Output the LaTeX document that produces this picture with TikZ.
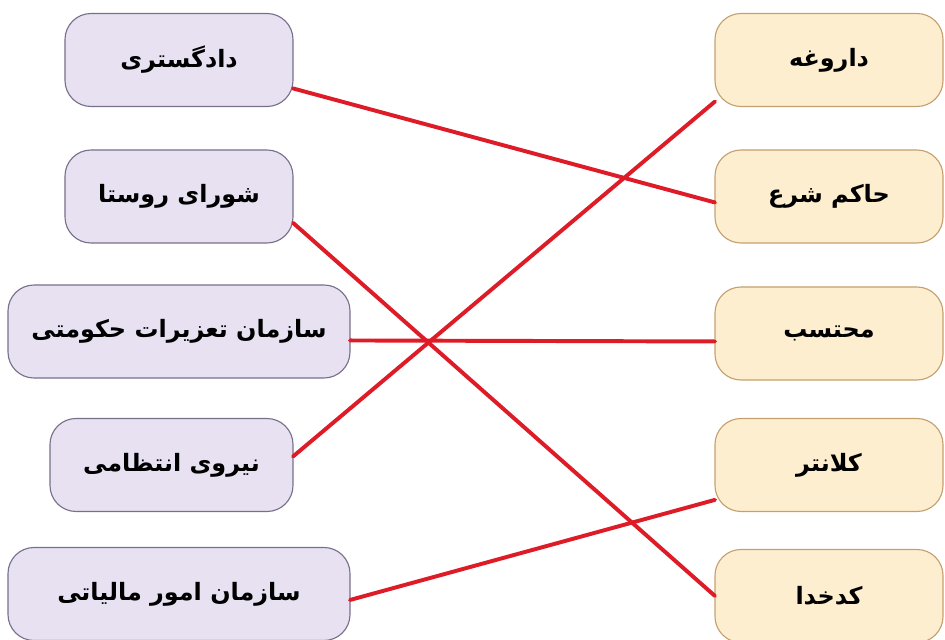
\documentclass[tikz,border=0pt]{standalone}
\usepackage{fontspec}
\newfontfamily\arabicfont[Script=Arabic]{DejaVu Sans}
\TeXXeTstate=1
\newcommand{\fa}[1]{{\arabicfont\bfseries\beginR #1\endR}}

\begin{document}
\begin{tikzpicture}[x=0.25mm,y=-0.25mm,
    leftbox/.style={draw=lilacline,fill=lilac,line width=0.8pt,rounded corners=6.5mm,
      minimum width=57mm,minimum height=23.25mm,outer sep=0pt,font=\fontsize{17}{21}\selectfont},
    rightbox/.style={draw=sandline,fill=sand,line width=0.8pt,rounded corners=6.5mm,
      minimum width=57mm,minimum height=23.25mm,outer sep=0pt,font=\fontsize{17}{21}\selectfont},
    link/.style={draw=linkred,line width=2.8pt,line cap=round}]
                    \definecolor{lilac}{RGB}{231,225,242}
                    \definecolor{lilacline}{RGB}{120,112,138}
                    \definecolor{sand}{RGB}{254,238,208}
                    \definecolor{sandline}{RGB}{196,160,112}
                    \definecolor{linkred}{RGB}{222,28,40}
                    \useasboundingbox (0,0) rectangle (945,640);
                    \node[leftbox] (a1) at (179,60) {\fa{دادگستری}};
                    \node[leftbox] (a2) at (179,196.5) {\fa{شورای روستا}};
                    \node[leftbox,minimum width=85.5mm] (a3) at (179,331.5) {\fa{سازمان تعزیرات حکومتی}};
                    \node[leftbox,minimum width=60.75mm] (a4) at (171.5,465) {\fa{نیروی انتظامی}};
                    \node[leftbox,minimum width=85.5mm] (a5) at (179,594) {\fa{سازمان امور مالیاتی}};
                    \node[rightbox] (b1) at (829,60) {\fa{داروغه}};
                    \node[rightbox] (b2) at (829,196.5) {\fa{حاکم شرع}};
                    \node[rightbox] (b3) at (829,333.5) {\fa{محتسب}};
                    \node[rightbox] (b4) at (829,465) {\fa{کلانتر}};
                    \node[rightbox] (b5) at (829,596) {\fa{کدخدا}};
                    \draw[link] (a1.-14)--(b2.183);
                    \draw[link] (a2.-13)--(b5.west);
                    \draw[link] (a3.-3.5)--(b3.184);
                    \draw[link] (a4.4)--(b1.200);
                    \draw[link] (a5.-2.5)--(b4.197);
                \end{tikzpicture}
\end{document}
